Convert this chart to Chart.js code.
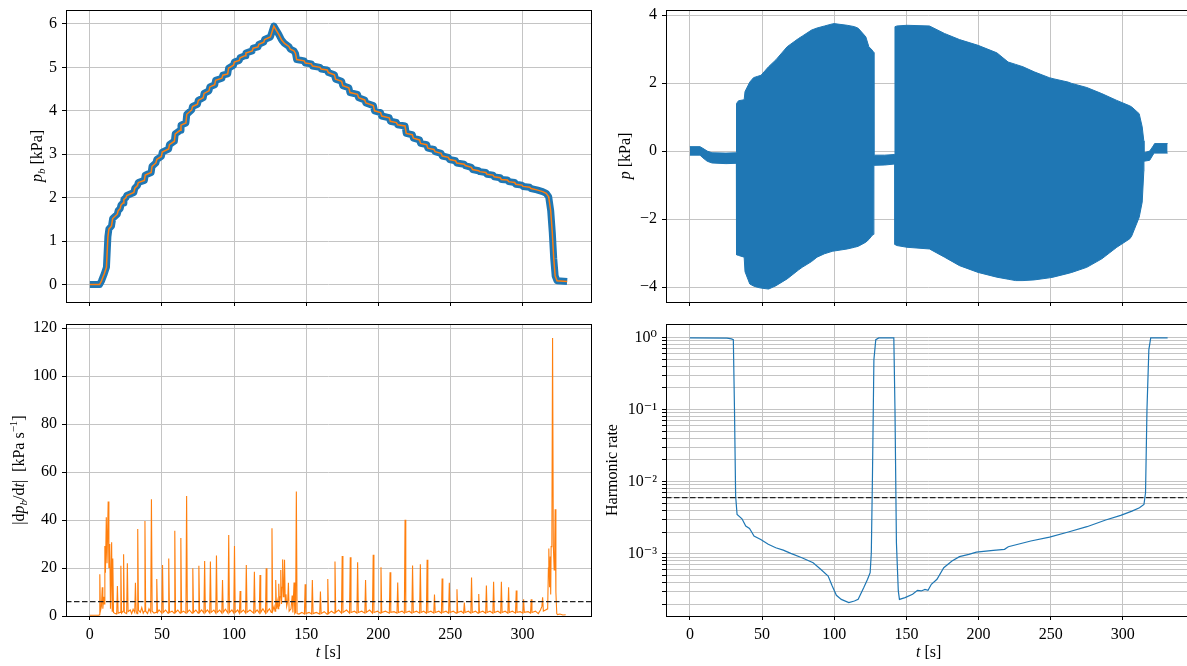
<!DOCTYPE html>
<html>
<head>
<meta charset="utf-8">
<script src="https://cdn.jsdelivr.net/npm/chart.js@4.4.0/dist/chart.umd.min.js"></script>
<style>
  body { margin: 0; background: #fff; overflow: hidden; width: 1187px; height: 666px; position: relative; }
  canvas { position: absolute; left: 0; top: 0; }
</style>
</head>
<body>
<canvas id="tl" width="1195" height="666"></canvas>
<canvas id="tr" width="1195" height="666"></canvas>
<canvas id="bl" width="1195" height="666"></canvas>
<canvas id="br" width="1195" height="666"></canvas>
<script>
// ---- data ----
const timeTicks = [0, 50, 100, 150, 200, 250, 300];
const timeRange = [-16.55, 347.55];
const pbTicks = [0, 1, 2, 3, 4, 5, 6];
const pTicks = [-4, -2, 0, 2, 4];
const dpdtTicks = [0, 20, 40, 60, 80, 100, 120];
const harmonicDecades = [-4, -3, -2, -1, 0];
const dpdtThreshold = 6;
const harmonicThreshold = 0.006;

// [t (s), p_b (kPa)]
const pbTrace = [
  [0, 0.00], [6.7, 0.00], [8, 0.08], [10, 0.25], [11.5, 0.40], [12.5, 1.10], [13.2, 1.28],
  [15, 1.35], [15.8, 1.52], [19, 1.62], [19.6, 1.70], [21, 1.75], [21.6, 1.83], [23, 1.88],
  [23.6, 1.96], [25, 2.00], [25.6, 2.05], [30.5, 2.12], [31.2, 2.22], [33, 2.28], [33.6, 2.35],
  [37.8, 2.40], [38.4, 2.52], [42.5, 2.58], [43.1, 2.72], [45.8, 2.80], [46.4, 2.88], [49.6, 2.95],
  [50.2, 3.05], [54.6, 3.12], [55.2, 3.22], [58.6, 3.30], [59.2, 3.47], [62.6, 3.55], [63.2, 3.67],
  [66.6, 3.72], [67.2, 3.92], [70.6, 4.02], [71.2, 4.10], [74.6, 4.15], [75.2, 4.24], [78.6, 4.30],
  [79.2, 4.40], [82.6, 4.46], [83.2, 4.55], [86.6, 4.60], [87.2, 4.70], [91.6, 4.75], [92.2, 4.82],
  [95.6, 4.85], [96.2, 4.98], [99.6, 5.05], [100.2, 5.12], [103.6, 5.16], [104.2, 5.22], [107.6, 5.27],
  [108.2, 5.33], [112.6, 5.38], [113.2, 5.44], [116.6, 5.47], [117.2, 5.53], [120.6, 5.58], [121.2, 5.64],
  [125.2, 5.70], [126, 5.78], [127.6, 5.95], [129, 5.87], [131, 5.76], [133, 5.63], [135, 5.55],
  [138, 5.48], [139, 5.42], [141.5, 5.38], [142.6, 5.32], [143.4, 5.18], [148.6, 5.15], [149.4, 5.10],
  [153.6, 5.08], [154.4, 5.03], [159.6, 5.00], [160.4, 4.96], [164.6, 4.94], [165.4, 4.88], [169.6, 4.83],
  [170.4, 4.73], [174.6, 4.68], [175.4, 4.58], [179.6, 4.53], [180.4, 4.42], [185.6, 4.38], [186.4, 4.30],
  [190.6, 4.25], [191.4, 4.18], [196.6, 4.12], [197.4, 4.00], [201.6, 3.96], [202.4, 3.88], [207.6, 3.84],
  [208.4, 3.76], [212.6, 3.73], [213.4, 3.68], [218.6, 3.65], [219.4, 3.48], [223.6, 3.45], [224.4, 3.37],
  [228.6, 3.33], [229.4, 3.25], [233.6, 3.22], [234.4, 3.14], [238.6, 3.11], [239.4, 3.06], [243.6, 3.02],
  [244.4, 2.96], [248.6, 2.93], [249.4, 2.88], [253.6, 2.85], [254.4, 2.80], [259.6, 2.77], [260.4, 2.74],
  [264.6, 2.70], [265.4, 2.65], [269.6, 2.62], [270.4, 2.60], [274.6, 2.58], [275.4, 2.54], [279.6, 2.52],
  [280.4, 2.48], [284.6, 2.46], [285.4, 2.42], [289.6, 2.41], [290.4, 2.37], [294.6, 2.35], [295.4, 2.31],
  [299.6, 2.29], [300.4, 2.26], [305, 2.24], [306, 2.21], [310, 2.18], [314, 2.14], [316.5, 2.10],
  [318.2, 2.02], [319.6, 1.70], [320.7, 1.20], [321.7, 0.60], [322.7, 0.20], [324, 0.09], [331, 0.07]
];

// [t (s), upper envelope p (kPa), lower envelope p (kPa)]
const pEnvelope = [
  [0, 0.13, -0.12], [7, 0.13, -0.12], [9, 0.08, -0.20], [12, 0.00, -0.30], [15.3, -0.05, -0.35],
  [25, -0.06, -0.37], [32.2, -0.05, -0.36], [32.3, 1.40, -3.05], [33.7, 1.48, -3.07], [37.6, 1.51, -3.12],
  [38.2, 1.75, -3.55], [41.5, 2.03, -3.91], [44.1, 2.16, -3.97], [47, 2.20, -4.01], [49.3, 2.23, -4.03],
  [54.5, 2.48, -4.06], [59.7, 2.69, -3.96], [67.4, 3.07, -3.76], [75.2, 3.31, -3.50], [77.8, 3.38, -3.42],
  [84.3, 3.56, -3.25], [88.1, 3.62, -3.12], [93.3, 3.68, -3.02], [98.6, 3.74, -2.95], [99.9, 3.75, -2.94],
  [109, 3.70, -2.88], [114.1, 3.66, -2.83], [116.7, 3.61, -2.80], [121.9, 3.36, -2.68], [124, 3.07, -2.60],
  [126.3, 2.97, -2.48], [127.4, 2.90, -2.45], [127.5, -0.12, -0.42], [135, -0.12, -0.41], [142, -0.10, -0.38],
  [142.1, 3.66, -2.75], [143.5, 3.68, -2.78], [150.4, 3.70, -2.83], [166, 3.68, -2.88], [176.4, 3.46, -3.12],
  [186.8, 3.28, -3.37], [199.7, 3.11, -3.57], [212.7, 2.89, -3.71], [220.5, 2.62, -3.77], [225.7, 2.55, -3.81],
  [230.8, 2.48, -3.81], [238.6, 2.33, -3.79], [249, 2.16, -3.73], [251.6, 2.13, -3.71], [262, 2.03, -3.60],
  [264.6, 1.99, -3.57], [275, 1.87, -3.42], [285.4, 1.69, -3.17], [295.8, 1.49, -2.83], [304.8, 1.33, -2.58],
  [306.1, 1.30, -2.50], [311.3, 1.10, -1.95], [313.4, 0.71, -1.50], [314.5, 0.30, -0.60], [314.6, -0.05, -0.30],
  [318.6, 0.00, -0.27], [321, 0.15, -0.10], [322, 0.22, -0.06], [331, 0.22, -0.06]
];

// [t (s), |dp_b/dt| (kPa/s)]
const dpdtTrace = [
  [0, 0.3], [6.3, 0.3], [6.5, 0.5], [6.9, 17.4], [7.3, 2], [8.0, 4], [8.6, 12], [9.0, 3], [9.6, 8], [10.0, 5],
  [10.4, 29.2], [10.8, 18], [11.4, 41.2], [11.9, 22], [12.7, 47.7], [13.2, 20], [13.8, 30], [14.3, 3],
  [15.1, 30.7], [15.5, 2], [15.9, 24], [16.4, 1.5], [17.5, 1], [18.6, 0.8], [19.1, 12.5], [19.6, 1.2],
  [21.0, 1.5], [21.5, 20.9], [22.0, 1.2], [23.0, 2], [23.4, 25.7], [23.9, 1.5], [25.5, 1], [26.0, 22],
  [26.5, 1.8], [28, 2.5], [29, 1], [30, 2.8], [31.1, 1.5], [31.6, 13.9], [32.1, 2], [32.7, 1], [33.2, 36.3],
  [33.7, 2.5], [35, 1.5], [36, 3.5], [37, 1.2], [37.7, 2], [38.2, 39.6], [38.7, 2], [40, 1], [41, 3],
  [42.2, 1.5], [42.7, 48.7], [43.2, 2], [44.5, 1.2], [45.9, 1.5], [46.4, 15.4], [46.9, 1.5], [48, 2.5],
  [49.9, 1.2], [50.4, 21.3], [50.9, 1.5], [52.5, 2.5], [54.2, 1.2], [54.7, 24], [55.2, 1.5], [57, 2],
  [58.4, 1.2], [58.9, 35.5], [59.4, 1.5], [61, 2.5], [62.6, 1.2], [63.1, 32.5], [63.6, 1.5], [65, 2],
  [66.6, 1.2], [67.1, 50], [67.6, 1.5], [69, 2.5], [70.9, 1.2], [71.4, 19.9], [71.9, 1.5], [73.5, 2.5],
  [75.1, 1.2], [75.6, 20.9], [76.1, 1.5], [77.5, 2.5], [79.1, 1.2], [79.6, 22.9], [80.1, 1.5], [81.5, 2.5],
  [83.1, 1.2], [83.6, 22.7], [84.1, 1.5], [86, 2.5], [87.3, 1.2], [87.8, 25.2], [88.3, 1.5], [90, 2.5],
  [91.5, 1.2], [92, 15], [92.5, 1.5], [94, 2.8], [95.8, 1.2], [96.3, 33.8], [96.8, 1.5], [98.5, 2.5],
  [99.8, 1.2], [100.3, 29.2], [100.8, 1.5], [102.5, 2.5], [103.7, 1.2], [104.2, 10.4], [104.7, 1.5],
  [106.5, 2.5], [108, 1.2], [108.5, 21.3], [109, 1.5], [111, 2.5], [113.6, 1.2], [114.1, 18.4], [114.6, 1.5],
  [116, 2.5], [117.5, 1.2], [118, 17.1], [118.5, 1.5], [120, 3], [121.8, 1.2], [122.3, 19.9], [122.8, 1.5],
  [124.5, 3], [125.8, 1.5], [126.3, 36.6], [126.8, 2], [127.8, 4], [128.4, 2], [128.9, 15], [129.4, 3],
  [130, 6], [130.5, 3], [131, 13.4], [131.5, 4], [132, 8], [132.4, 19.2], [132.9, 5], [133.3, 12],
  [133.7, 23.6], [134.2, 8], [134.6, 10], [135, 23.4], [135.5, 6], [136, 9], [136.5, 4], [137.2, 6],
  [137.7, 13.9], [138.2, 2], [139.5, 3], [140.3, 8.5], [140.8, 1.5], [141.6, 14], [142.1, 1], [142.7, 1.5],
  [143.2, 51.9], [143.7, 1], [145, 0.8], [147, 1.5], [148.8, 0.8], [149.3, 13.2], [149.8, 1], [152, 1.5],
  [153.8, 0.8], [154.3, 15], [154.8, 1], [157, 1.5], [159.4, 0.8], [159.9, 10.2], [160.4, 1], [162.5, 1.8],
  [164.5, 0.8], [165, 15.4], [165.5, 1], [167.5, 2], [169.5, 1.2], [170, 22.7], [170.5, 1.5], [172.5, 2.5],
  [174.5, 1.2], [175, 25], [175.5, 1.5], [178, 2.5], [180.1, 1.2], [180.6, 24.5], [181.1, 1.5], [183.5, 2],
  [185.2, 1.2], [185.7, 22.4], [186.2, 1.5], [188.5, 2], [190.7, 1.2], [191.2, 15], [191.7, 1.5], [194, 2.5],
  [196, 1.2], [196.5, 25.5], [197, 1.5], [199.5, 2], [201.4, 1.2], [201.9, 20.3], [202.4, 1.5], [205, 2],
  [207.7, 1.2], [208.2, 18.2], [208.7, 1.5], [211, 1.8], [213, 1.2], [213.5, 14], [214, 1.5], [216.5, 2],
  [218.1, 1.2], [218.6, 40.1], [219.1, 1.5], [221.5, 2], [223.3, 1.2], [223.8, 21], [224.3, 1.5], [226.5, 2],
  [228.7, 1.2], [229.2, 21.6], [229.7, 1.5], [231.5, 2], [233.4, 1.2], [233.9, 23.4], [234.4, 1.5],
  [236.5, 2], [238.5, 1.2], [239, 9], [239.5, 1.5], [242, 2], [243.8, 1.2], [244.3, 15.6], [244.8, 1.5],
  [247, 2], [248.8, 1.2], [249.3, 13.9], [249.8, 1.5], [252, 2], [254.1, 1.2], [254.6, 11.1], [255.1, 1.5],
  [257.5, 2], [259.2, 1.2], [259.7, 5.6], [260.2, 1.5], [262.5, 2], [264.2, 1.2], [264.7, 16], [265.2, 1.5],
  [267.5, 2], [269.2, 1.2], [269.7, 9.2], [270.2, 1.5], [272.5, 2], [274.5, 1.2], [275, 12.7], [275.5, 1.5],
  [277.5, 2], [279.5, 1.2], [280, 14.3], [280.5, 1.5], [283, 2], [284.9, 1.2], [285.4, 14.3], [285.9, 1.5],
  [288, 2], [289.9, 1.2], [290.4, 12], [290.9, 1.5], [293, 2], [295.2, 1.2], [295.7, 10.6], [296.2, 1.5],
  [298.5, 1.8], [300.3, 1.2], [300.8, 7], [301.3, 1.5], [304, 1.8], [305.6, 1.2], [306.1, 7], [306.6, 1.5],
  [309, 2], [311, 1], [312.5, 2.5], [313.5, 4], [314, 7.8], [314.5, 2], [316, 2.5], [317.5, 3], [318, 20],
  [318.3, 28.1], [318.8, 12], [319.3, 24.8], [319.6, 9], [319.9, 28.9], [320.4, 30], [320.9, 115.9],
  [321.4, 30], [322, 19.2], [322.4, 30], [322.7, 44.5], [323.2, 10], [323.8, 1], [324.3, 0.6], [326, 0.8],
  [328, 0.4], [330, 0.5]
];

// [t (s), harmonic rate]
const harmonicRate = [
  [0, 0.98], [25.7, 0.975], [28.8, 0.95], [30.1, 0.93], [30.9, 0.1], [31.7, 0.0063], [32.7, 0.0035],
  [36.1, 0.00305], [38.7, 0.00242], [41.3, 0.00224], [43.1, 0.00195], [44.4, 0.00176], [49.1, 0.00158],
  [54.3, 0.00135], [59.5, 0.00121], [64.7, 0.00112], [69.9, 0.00101], [77.6, 0.00088], [85.4, 0.00075],
  [90.6, 0.00061], [95.8, 0.00049], [98.4, 0.000365], [101.5, 0.000265], [104.9, 0.000233], [110.1, 0.00021],
  [114, 0.000221], [116.6, 0.000233], [120.5, 0.000339], [123.1, 0.000442], [124.9, 0.000546],
  [125.7, 0.00103], [126.5, 0.0119], [127.5, 0.491], [128.8, 0.929], [130.9, 0.98], [141.3, 0.98],
  [142.1, 0.1], [143.1, 0.00142], [144.4, 0.000305], [145.2, 0.000233], [149.1, 0.000246], [154.3, 0.000274],
  [157.7, 0.000311], [160.3, 0.000305], [162.9, 0.000321], [165, 0.000311], [167.3, 0.000377],
  [171.2, 0.000442], [175.9, 0.000641], [181.6, 0.000793], [186.8, 0.00091], [193.3, 0.00098],
  [198.5, 0.00105], [210.2, 0.00111], [218, 0.00115], [220.6, 0.00125], [236.2, 0.0015], [249.2, 0.0017],
  [262.2, 0.002], [275.1, 0.00237], [288.1, 0.00293], [298.5, 0.0034], [306.3, 0.0039], [311.5, 0.00434],
  [314.6, 0.00482], [315.7, 0.007], [316.7, 0.1], [318, 0.675], [319.3, 0.98], [331, 0.98]
];

// ---- layout / style ----
const CW = 1195, CH = 666, XH = 40;
const BLUE = '#1f77b4', ORANGE = '#ff7f0e', GRID = '#c4c4c4';
const FONT = '"Liberation Serif", "DejaVu Serif", serif';
const tickFont = { family: FONT, size: 16 };

const areas = {
  tl: { l: 66, t: 10, r: 591, b: 302 },
  tr: { l: 666, t: 10, r: 1191.5, b: 302 },
  bl: { l: 66, t: 324, r: 591, b: 616 },
  br: { l: 666, t: 324, r: 1191.5, b: 616 }
};

function pts(rows, col) {
  return rows.map(r => ({ x: r[0], y: r[col] }));
}

function hline(value) {
  return {
    data: [{ x: timeRange[0], y: value }, { x: timeRange[1], y: value }],
    borderColor: '#222', borderWidth: 1.4, borderDash: [5.5, 2.5],
    pointRadius: 0, order: 0
  };
}

function minus(v) {
  return v < 0 ? '\u2212' + Math.abs(v) : String(v);
}

const supDigits = { '0': '\u2070', '1': '\u00b9', '2': '\u00b2', '3': '\u00b3', '4': '\u2074', '-': '\u207b' };
function powLabel(e) {
  return '10' + String(e).split('').map(c => supDigits[c]).join('');
}

function drawRich(ctx, parts, x, y, rot) {
  const size = 16;
  const fontOf = p => (p.i ? 'italic ' : '') + ((p.sub || p.sup) ? 11 : size) + 'px ' + FONT;
  let w = 0;
  parts.forEach(p => { ctx.font = fontOf(p); w += ctx.measureText(p.t).width; });
  ctx.save();
  ctx.translate(x, y);
  ctx.rotate(rot);
  ctx.fillStyle = '#000';
  ctx.textBaseline = 'alphabetic';
  ctx.textAlign = 'left';
  let cx = -w / 2;
  parts.forEach(p => {
    ctx.font = fontOf(p);
    const dy = p.sub ? 3 : p.sup ? -7 : 0;
    ctx.fillText(p.t, cx, 5 + dy);
    cx += ctx.measureText(p.t).width;
  });
  ctx.restore();
}

function decor(yLabel, yLabelX, xLabel) {
  return {
    id: 'decor',
    afterDraw(chart) {
      const a = chart.chartArea;
      const ctx = chart.ctx;
      ctx.save();
      ctx.strokeStyle = '#000';
      ctx.lineWidth = 1;
      ctx.strokeRect(Math.round(a.left) + 0.5, Math.round(a.top) + 0.5,
        Math.round(a.right) - Math.round(a.left), Math.round(a.bottom) - Math.round(a.top));
      ctx.restore();
      drawRich(ctx, yLabel, yLabelX, (a.top + a.bottom) / 2, -Math.PI / 2);
      if (xLabel) drawRich(ctx, xLabel, (a.left + a.right) / 2, 652, 0);
    }
  };
}

function makePanel(id, area, showX, yScale, datasets, yLabel, yLabelX) {
  const xScale = {
    type: 'linear', min: timeRange[0], max: timeRange[1],
    afterBuildTicks: s => { s.ticks = timeTicks.map(v => ({ value: v })); },
    afterFit: s => { s.height = XH; s.paddingLeft = 0; s.paddingRight = 0; },
    ticks: { display: showX, autoSkip: false, maxRotation: 0, font: tickFont, color: '#000', padding: 5 },
    grid: { color: GRID, lineWidth: 1, tickLength: 4, tickColor: '#000', tickWidth: 1 },
    border: { display: false }
  };
  const yBase = {
    afterFit: s => { s.width = area.l; s.paddingTop = 0; s.paddingBottom = 0; },
    border: { display: false }
  };
  const y = Object.assign(yBase, yScale);
  y.ticks = Object.assign({ autoSkip: false, font: tickFont, color: '#000', padding: 5 }, yScale.ticks);
  y.grid = Object.assign({ color: GRID, lineWidth: 1, tickLength: 4, tickColor: '#000', tickWidth: 1 }, yScale.grid);
  return new Chart(document.getElementById(id), {
    type: 'line',
    data: { datasets },
    options: {
      responsive: false,
      animation: false,
      devicePixelRatio: 1,
      layout: { padding: { left: 0, top: area.t, right: CW - area.r, bottom: CH - area.b - XH } },
      elements: { point: { radius: 0 }, line: { tension: 0 } },
      plugins: { legend: { display: false }, tooltip: { enabled: false } },
      scales: { x: xScale, y }
    },
    plugins: [decor(yLabel, yLabelX, showX ? [{ t: 't', i: 1 }, { t: ' [s]' }] : null)]
  });
}

// top left: p_b
makePanel('tl', areas.tl, false,
  { type: 'linear', min: -0.4, max: 6.32,
    afterBuildTicks: s => { s.ticks = pbTicks.map(v => ({ value: v })); } },
  [
    { data: pts(pbTrace, 1), borderColor: ORANGE, borderWidth: 1.5, order: 1 },
    { data: pts(pbTrace, 1), borderColor: BLUE, borderWidth: 7, borderJoinStyle: 'round', order: 2 }
  ],
  [{ t: 'p', i: 1 }, { t: 'b', i: 1, sub: 1 }, { t: ' [kPa]' }], 37);

// top right: p
makePanel('tr', areas.tr, false,
  { type: 'linear', min: -4.44, max: 4.15,
    afterBuildTicks: s => { s.ticks = pTicks.map(v => ({ value: v })); },
    ticks: { callback: v => minus(v) } },
  [
    { data: pts(pEnvelope, 1), borderColor: BLUE, backgroundColor: BLUE, borderWidth: 1, fill: '+1' },
    { data: pts(pEnvelope, 2), borderColor: BLUE, borderWidth: 1, fill: false }
  ],
  [{ t: 'p', i: 1 }, { t: ' [kPa]' }], 625);

// bottom left: |dp_b/dt|
makePanel('bl', areas.bl, true,
  { type: 'linear', min: 0, max: 121.7,
    afterBuildTicks: s => { s.ticks = dpdtTicks.map(v => ({ value: v })); } },
  [
    { data: pts(dpdtTrace, 1), borderColor: ORANGE, borderWidth: 1.1, order: 1 },
    hline(dpdtThreshold)
  ],
  [{ t: '|d' }, { t: 'p', i: 1 }, { t: 'b', i: 1, sub: 1 }, { t: '/d' }, { t: 't', i: 1 },
   { t: '|  [kPa s' }, { t: '\u22121', sup: 1 }, { t: ']' }], 19);

// bottom right: harmonic rate (log)
const harmonicTicks = [];
harmonicDecades.forEach(e => {
  for (let m = 1; m <= 9; m++) harmonicTicks.push({ value: m * Math.pow(10, e), major: m === 1, e });
});
makePanel('br', areas.br, true,
  { type: 'logarithmic', min: 0.000137, max: 1.53,
    afterBuildTicks: s => {
      s.ticks = harmonicTicks.filter(t => t.value >= s.min && t.value <= s.max)
        .map(t => ({ value: t.value, major: t.major, label: t.major ? powLabel(t.e) : '' }));
    },
    ticks: { callback: function (v, i, ticks) { return ticks[i].major ? powLabel(Math.round(Math.log10(v))) : ''; } } },
  [
    { data: pts(harmonicRate, 1), borderColor: BLUE, borderWidth: 1.2, order: 1 },
    hline(harmonicThreshold)
  ],
  [{ t: 'Harmonic rate' }], 612);
</script>
</body>
</html>
